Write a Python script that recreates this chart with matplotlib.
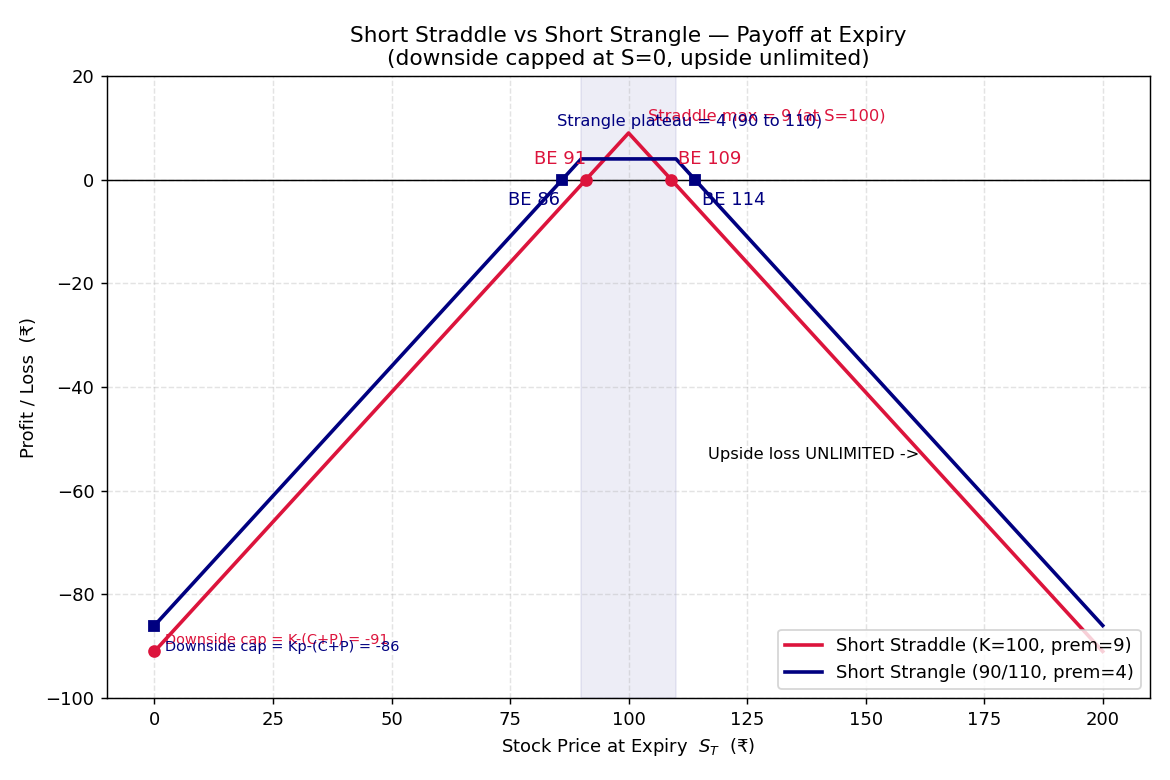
import matplotlib
matplotlib.use('Agg')
import matplotlib.pyplot as plt

# payoff key points (piecewise linear)
straddle_S = [0, 100, 200]
straddle_pl = [-91, 9, -91]
strangle_S = [0, 90, 110, 200]
strangle_pl = [-86, 4, 4, -86]

straddle_marks_S = [0, 91, 109]
straddle_marks_pl = [-91, 0, 0]
strangle_marks_S = [0, 86, 114]
strangle_marks_pl = [-86, 0, 0]

plateau = (90, 110)

fig, ax = plt.subplots(figsize=(9, 6), dpi=130)

ax.axvspan(plateau[0], plateau[1], color='navy', alpha=0.07)
ax.axhline(0, color='black', lw=0.8)

ax.plot(straddle_S, straddle_pl, color='crimson', lw=2, label='Short Straddle (K=100, prem=9)')
ax.plot(strangle_S, strangle_pl, color='navy', lw=2, label='Short Strangle (90/110, prem=4)')
ax.plot(straddle_marks_S, straddle_marks_pl, 'o', color='crimson', ms=6)
ax.plot(strangle_marks_S, strangle_marks_pl, 's', color='navy', ms=6)

ax.text(91, 2.2, 'BE 91', color='crimson', ha='right', va='bottom', fontsize=10)
ax.text(110.5, 2.2, 'BE 109', color='crimson', ha='left', va='bottom', fontsize=10)
ax.text(85.5, -2.2, 'BE 86', color='navy', ha='right', va='top', fontsize=10)
ax.text(115.5, -2.2, 'BE 114', color='navy', ha='left', va='top', fontsize=10)

ax.text(104, 10.8, 'Straddle max = 9 (at S=100)', color='crimson', fontsize=9, va='bottom')
ax.text(85, 9.8, 'Strangle plateau = 4 (90 to 110)', color='navy', fontsize=9, va='bottom')

ax.text(2.3, -88.8, 'Downside cap = K-(C+P) = -91', color='crimson', fontsize=8, va='center')
ax.text(2.3, -90.2, 'Downside cap = Kp-(C+P) = -86', color='navy', fontsize=8, va='center')

ax.text(116.8, -53.1, 'Upside loss UNLIMITED ->', color='black', fontsize=9, va='center')

ax.set_xlim(-10, 210)
ax.set_ylim(-100, 20)
ax.grid(True, ls='--', alpha=0.35)
ax.set_xlabel('Stock Price at Expiry  $S_T$  (₹)')
ax.set_ylabel('Profit / Loss  (₹)')
ax.set_title('Short Straddle vs Short Strangle — Payoff at Expiry\n(downside capped at S=0, upside unlimited)', fontsize=12)
ax.legend(loc='lower right', fontsize=10)

fig.subplots_adjust(left=0.0915, right=0.983, top=0.9026, bottom=0.105)
fig.savefig('out.png', dpi=130)
